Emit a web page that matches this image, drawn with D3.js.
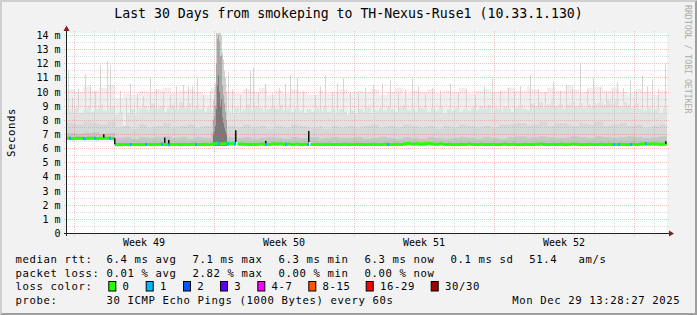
<!DOCTYPE html>
<html><head><meta charset="utf-8">
<script src="https://cdn.jsdelivr.net/npm/d3@7/dist/d3.min.js"></script>
<style>
html,body{margin:0;padding:0;background:#f2f2f2;overflow:hidden;}
svg{display:block;}
text{font-family:"DejaVu Sans Mono",monospace;}
</style></head><body>
<svg id="c" width="697" height="315"></svg>
<script>
// ---------------- DATA ----------------
const titleText = "Last 30 Days from smokeping to TH-Nexus-Ruse1 (10.33.1.130)";
const yTickValues = [0,1,2,3,4,5,6,7,8,9,10,11,12,13,14];
const yTickLabels = ["0","1 m","2 m","3 m","4 m","5 m","6 m","7 m","8 m","9 m","10 m","11 m","12 m","13 m","14 m"];
const weekStarts = ["2025-11-30","2025-12-07","2025-12-14","2025-12-21"];
const weekLabels = ["Week 49","Week 50","Week 51","Week 52"];
const startTime = Date.UTC(2025,10,29,15,36);
const endTime   = Date.UTC(2025,11,29,15,36);
const binHours = 4.8;            // median / body bins
const coarseBinHours = 9.6;      // coarse smoke layer bins

// median rtt (ms), one per 4.8 h
const median = [
 6.73,6.72,6.74,6.73,6.72,6.73,6.74,6.72,6.73,6.74,6.73,6.72,
 6.29,6.29,6.30,6.29,6.30,6.30,6.29,6.30,6.30,6.29,6.30,6.31,6.30,6.29,6.30,6.30,6.29,6.30,6.30,6.31,6.30,6.30,6.31,6.30,6.32,
 6.36,6.33,6.37,6.34,6.35,6.33,6.32,
 6.31,6.30,6.31,6.30,6.32,6.31,6.30,
 6.34,6.32,6.35,6.31,6.33,6.30,6.32,6.30,
 6.31,6.30,6.30,6.31,6.30,6.30,6.31,6.30,6.30,6.30,6.31,6.30,6.30,6.31,6.30,6.30,6.30,6.31,6.30,6.30,6.31,6.30,6.30,6.31,6.30,
 6.34,6.36,6.33,6.35,6.32,6.34,6.36,6.33,6.31,6.34,
 6.30,6.31,6.30,6.30,6.31,6.30,6.32,6.30,6.30,6.31,6.30,6.30,6.31,6.30,6.30,6.32,6.30,6.31,6.30,6.30,6.31,6.30,6.30,6.31,6.32,
 6.30,6.30,6.31,6.30,6.31,6.30,6.30,6.32,6.31,6.30,6.30,6.31,6.30,6.30,6.31,6.30,6.31,6.30,6.30,6.31,6.30,6.30,6.31,6.30,
 6.33,6.35,6.32,6.34,6.33,6.31,6.32
];
// top of the light smoke body (ms), one per 4.8 h
const smokeBody = [
 8.8,8.6,8.9,8.5,8.7,9.0,8.6,8.8,9.1,8.7,8.9,9.0,
 8.4,8.6,7.6,8.5,8.8,8.3,
 8.9,9.0,8.7,9.2,8.8,9.0,8.6,8.9,
 9.1,8.8,9.3,8.9,9.2,8.7,9.0,
 8.8,8.6,8.9,8.7,
 9.5,10.0,9.6,
 8.7,8.5,8.9,8.6,
 8.8,9.1,8.7,9.0,8.9,8.6,8.8,
 9.0,8.8,9.1,8.7,8.9,8.6,
 8.9,8.7,8.5,8.8,8.6,8.9,
 8.7,9.0,8.6,8.8,8.5,8.8,8.6,
 8.4,8.7,8.5,8.8,8.6,8.9,8.5,8.7,
 8.9,8.7,9.0,8.8,8.6,8.9,9.1,8.7,8.8,8.6,8.9,
 8.8,8.6,8.9,8.7,9.0,8.5,8.8,8.7,8.9,8.6,8.8,8.7,
 8.9,8.7,9.0,8.8,9.1,8.6,8.9,8.7,9.0,8.8,8.6,8.9,9.1,8.8,8.7,
 9.2,9.0,9.3,8.9,9.1,9.4,9.0,9.2,8.8,9.1,9.3,9.0,9.2,8.9,9.1,9.0,9.2,
 9.3,9.1,9.4,9.2,9.5,9.0,9.3,9.1,8.9,9.2,8.8,
 8.7,8.9,8.6,8.8,8.5,8.9
];
// top of the faint outer haze (ms), one per 9.6 h
const smokeHaze = [
 10.2,10.0,10.4,10.1,10.3,10.5,
 9.6,9.9,9.8,10.1,10.0,10.2,10.3,9.9,10.1,10.2,10.0,9.8,
 10.3,10.6,
 10.0,9.9,10.2,10.0,10.3,9.8,10.1,9.9,10.2,10.0,9.8,10.1,9.9,10.0,10.2,
 9.9,10.1,10.0,10.2,9.8,10.0,10.3,9.9,10.1,10.0,10.2,9.9,10.1,10.0,10.3,9.9,10.1,10.2,10.0,10.1,
 10.3,10.1,10.4,10.2,10.0,10.3,10.1,10.5,10.2,10.0,10.3,10.4,10.1,10.3,10.0,9.9,10.2,10.0,9.8,10.1
];
// top of the medium smoke layer (ms), one per 9.6 h
const smokeMid = [
 7.8,7.7,7.9,7.8,7.7,7.9,
 7.5,7.6,7.4,7.7,7.5,7.6,7.8,7.5,7.6,7.7,7.5,7.6,
 8.0,8.2,
 7.6,7.5,7.7,7.5,7.6,7.4,7.6,7.5,7.7,7.6,7.5,7.6,7.4,7.6,7.5,
 7.6,7.5,7.6,7.7,7.5,7.6,7.5,7.7,7.6,7.5,7.6,7.4,7.6,7.5,7.7,7.6,7.5,7.6,7.5,7.7,
 7.7,7.8,7.6,7.7,7.9,7.6,7.8,7.7,7.6,7.8,7.7,7.9,7.6,7.7,7.8,7.6,7.7,7.5,7.6,7.7
];
// top of the dark smoke layer near the median (ms), one per 9.6 h
const smokeInner = [
 7.1,7.05,7.1,7.15,7.05,7.1,
 6.75,6.8,6.7,6.8,6.75,6.8,6.85,6.75,6.8,6.7,6.8,6.75,
 7.2,7.4,
 6.8,6.75,6.8,6.7,6.75,6.8,6.75,6.7,6.8,6.75,6.8,6.7,6.75,6.8,6.75,
 6.75,6.8,6.7,6.75,6.8,6.75,6.7,6.8,6.75,6.7,6.8,6.75,6.7,6.75,6.8,6.75,6.7,6.8,6.75,6.7,
 6.8,6.85,6.75,6.8,6.85,6.8,6.75,6.8,6.85,6.8,6.75,6.85,6.8,6.75,6.8,6.85,6.8,6.75,6.8,6.85
];
// isolated smoke spikes (day offset from start, top in ms)
const spikeDay = [0.05,0.25,0.55,0.9,1.15,1.4,1.65,2.0,2.15,2.65,2.95,3.15,3.5,3.8,4.15,4.45,4.8,5.15,5.45,5.8,6.05,6.25,6.5,6.8,7.15,8.05,8.25,8.65,8.95,9.15,9.3,9.55,9.9,10.25,10.6,10.9,11.15,11.5,11.8,12.4,12.65,12.9,13.25,13.5,13.8,14.15,14.55,14.9,15.3,15.75,16.15,16.55,16.9,17.25,17.55,17.9,18.25,18.65,19.15,19.55,19.95,20.4,20.85,21.25,21.65,22.05,22.35,22.65,23.15,23.55,23.9,24.3,24.65,24.95,25.25,25.65,26.0,26.3,26.65,26.95,27.25,27.5,27.8,28.15,28.45,28.75,29.0,29.25,29.55,29.9];
const spikeTop = [11.5,9.6,10.2,11.3,10.5,10.0,11.9,12.2,11.9,10.1,9.6,10.6,9.9,9.7,11.0,10.2,10.0,9.8,10.4,10.5,10.4,10.4,11.0,9.8,10.1,11.4,10.2,9.8,10.3,11.5,11.7,10.0,10.6,9.9,10.3,10.6,11.2,11.0,10.1,9.8,10.4,11.2,10.0,10.6,11.0,10.0,9.9,10.3,10.5,10.6,10.8,10.0,10.2,11.0,10.4,9.9,10.3,10.1,10.6,10.0,10.2,9.8,10.4,11.0,10.1,10.3,10.0,10.4,11.2,10.2,10.0,10.7,10.1,10.5,10.4,12.0,10.2,11.0,10.3,10.0,10.1,10.7,10.3,10.8,10.0,11.2,10.4,10.9,10.2,12.0];
// latency burst around day 7.5
const burstDay  = [7.30,7.35,7.40,7.45,7.50,7.55,7.60,7.65,7.70,7.75,7.80,7.85,7.90,7.95];
const burstMax  = [9.4,9.8,10.6,14.2,14.2,14.2,14.2,14.2,14.0,12.8,12.3,11.5,11.0,10.0];
const burstMid  = [8.0,8.3,9.0,12.0,13.8,14.0,13.6,12.5,12.6,10.5,9.8,9.2,8.6,8.0];
const burstDark = [7.0,7.2,7.6,8.8,10.5,11.2,10.0,9.0,9.5,8.2,7.8,7.5,7.2,7.0];
// dense dark smoke marks near the median
const darkDay = [1.82,2.35,4.87,5.03,8.40,9.90,12.05,29.92];
const darkLo  = [6.78,6.30,6.40,6.36,6.45,6.38,6.45,6.33];
const darkHi  = [7.02,6.74,6.78,6.62,7.30,6.55,7.25,6.52];
// single lost packet (1/30) events
const lossDay = [0.1,0.8,1.35,2.1,3.15,3.9,4.7,5.05,6.4,7.55,8.0,8.35,9.9,10.9,12.0,16.0,27.3,27.55,28.15,28.9];
// median gaps
const gapDay = [8.45,12.1];

// legend
const rttStats = ["6.4","7.1","6.3","6.3"];
const statNames = ["avg","max","min","now"];
const rttSd = "0.1";
const amps = "51.4";
const lossStats = ["0.01","2.82","0.00","0.00"];
const lossColorLabels = ["0","1","2","3","4-7","8-15","16-29","30/30"];
const lossColors = ["#26ff00","#00b8ff","#0059ff","#5e00ff","#ff00ff","#ff5500","#ff0000","#a10000"];
const probeText = "30 ICMP Echo Pings (1000 Bytes) every 60s";
const dateText = "Mon Dec 29 13:28:27 2025";

// ---------------- DRAW ----------------
const W = 697, H = 315;
const svg = d3.select("#c");
const DAY = 864e5, HOUR = 36e5;
const tDay = d => new Date(startTime + d*DAY);

const x = d3.scaleUtc().domain([startTime, endTime]).range([67, 667]);
const y = d3.scaleLinear().domain([0, 14]).range([233.5, 35.5]);

// background + 3D border
svg.append("rect").attr("width", W).attr("height", H).attr("fill", "#f2f2f2");
svg.append("path").attr("d", `M0,0H${W}L${W-2},2H2V${H-2}L0,${H}Z`).attr("fill", "#cfcfcf");
svg.append("path").attr("d", `M${W},0V${H}H0L2,${H-2}H${W-2}V2Z`).attr("fill", "#9e9e9e");

// title
svg.append("text").attr("x", 348.5).attr("y", 18.3).attr("text-anchor", "middle")
  .style("font-size", "13.2px").attr("fill", "#000").text(titleText);

// canvas
svg.append("rect").attr("x", 67).attr("y", 33).attr("width", 600).attr("height", 200.5).attr("fill", "#fff");
svg.append("clipPath").attr("id", "plotclip").append("rect")
  .attr("x", 67).attr("y", 33).attr("width", 600).attr("height", 200.5);
const plot = svg.append("g").attr("clip-path", "url(#plotclip)");

// fine bins
const coarse = i => Math.floor(i*binHours/coarseBinHours);
const fine = median.map((m, i) => ({
  t: startTime + i*binHours*HOUR, m,
  body: smokeBody[i],
  haze: smokeHaze[coarse(i)],
  mid: smokeMid[coarse(i)],
  inner: smokeInner[coarse(i)]
}));
const finePts = fine.concat([Object.assign({}, fine[fine.length-1], {t: startTime + fine.length*binHours*HOUR})]);
const stepArea = (lo, hi) => d3.area().curve(d3.curveStepAfter)
  .x(d => x(new Date(d.t))).y0(d => y(lo(d))).y1(d => y(hi(d)))(finePts);

plot.append("path").attr("d", stepArea(d => d.m, d => d.haze)).attr("fill", "#efefef");
// spikes (under body)
plot.append("g").selectAll("rect").data(spikeDay).join("rect")
  .attr("x", d => Math.round(x(tDay(d)))).attr("width", 1)
  .attr("y", (d, i) => y(spikeTop[i])).attr("height", (d, i) => y(7.5) - y(spikeTop[i]))
  .attr("fill", "#d6d6d6");

plot.append("path").attr("d", stepArea(d => d.m - 0.12, d => d.body)).attr("fill", "#e2e2e2");
plot.append("path").attr("d", stepArea(d => d.m - 0.12, d => d.mid)).attr("fill", "#d7d7d7");
plot.append("path").attr("d", stepArea(d => d.m - 0.12, d => d.inner)).attr("fill", "#c6c6c6");

// burst
const burst = plot.append("g");
[[burstMax, "#d0d0d0"], [burstMid, "#a8a8a8"], [burstDark, "#7a7a7a"]].forEach(([arr, col]) => {
  burst.append("g").selectAll("rect").data(burstDay).join("rect")
    .attr("x", d => Math.round(x(tDay(d)))).attr("width", 1)
    .attr("y", (d, i) => y(arr[i])).attr("height", (d, i) => y(6.2) - y(arr[i]))
    .attr("fill", col);
});

// grid
const grid = svg.append("g");
const hvals = d3.range(1, 29).map(k => k/2);
hvals.forEach(v => {
  const yy = Math.round(y(v) - 0.5) + 0.5;
  const major = Number.isInteger(v);
  grid.append("line").attr("x1", 64).attr("x2", 669).attr("y1", yy).attr("y2", yy)
    .attr("stroke", major ? "#de4f4f" : "#8f8f8f").attr("stroke-opacity", major ? 0.35 : 0.3)
    .attr("stroke-dasharray", "1,1");
});
const days = d3.utcDay.range(new Date(startTime), new Date(endTime));
const sundays = d3.utcSunday.range(new Date(startTime), new Date(endTime)).map(d => +d);
days.forEach(d => {
  const xx = Math.round(x(d)) + 0.5;
  const major = sundays.includes(+d);
  grid.append("line").attr("x1", xx).attr("x2", xx).attr("y1", 31).attr("y2", 236)
    .attr("stroke", major ? "#de4f4f" : "#8f8f8f").attr("stroke-opacity", major ? 0.35 : 0.3)
    .attr("stroke-dasharray", "1,1");
});

// median line
const med = svg.append("g").attr("clip-path", "url(#plotclip)");
med.append("path").attr("d", d3.area().curve(d3.curveStepAfter)
  .x(d => x(new Date(d.t))).y0(d => y(d.m) + 1.5).y1(d => y(d.m) - 1.5)(finePts))
  .attr("fill", lossColors[0]);
// loss events
med.selectAll("rect.loss").data(lossDay).join("rect").attr("class", "loss")
  .attr("x", d => Math.round(x(tDay(d)))).attr("width", 2)
  .attr("y", d => y(median[Math.floor(d*24/binHours)]) - 1.5).attr("height", 3)
  .attr("fill", lossColors[1]);
// dark marks
med.selectAll("rect.dark").data(darkDay).join("rect").attr("class", "dark")
  .attr("x", d => Math.round(x(tDay(d)))).attr("width", 1.5)
  .attr("y", (d, i) => y(darkHi[i])).attr("height", (d, i) => y(darkLo[i]) - y(darkHi[i]))
  .attr("fill", "#111");
// gaps
med.selectAll("rect.gap").data(gapDay).join("rect").attr("class", "gap")
  .attr("x", d => Math.round(x(tDay(d)))).attr("width", 1.5)
  .attr("y", d => y(median[Math.floor(d*24/binHours)] + 0.15)).attr("height", 5)
  .attr("fill", "#fff");

// axes
svg.append("line").attr("x1", 64).attr("x2", 669).attr("y1", 233.5).attr("y2", 233.5).attr("stroke", "#1f1f1f");
svg.append("line").attr("x1", 66.5).attr("x2", 66.5).attr("y1", 236).attr("y2", 31).attr("stroke", "#1f1f1f");
svg.append("path").attr("d", "M669,230.5L674,233.5L669,236.5Z").attr("fill", "#801f1f");
svg.append("path").attr("d", "M63.5,31L66.5,25.5L69.5,31Z").attr("fill", "#801f1f");

// y labels
svg.append("g").selectAll("text").data(yTickValues).join("text")
  .attr("x", 60.6).attr("y", d => Math.round(y(d) - 0.5) + 4)
  .attr("text-anchor", "end").style("font-size", "10px").attr("fill", "#000")
  .text((d, i) => yTickLabels[i]);

// week labels
svg.append("g").selectAll("text").data(weekStarts).join("text")
  .attr("x", d => x(new Date(Date.parse(d + "T00:00:00Z") + 3.5*DAY)))
  .attr("y", 245.5).attr("text-anchor", "middle").style("font-size", "10px").attr("fill", "#000")
  .text((d, i) => weekLabels[i]);

// axis title
svg.append("text").attr("transform", "translate(15,132.5) rotate(-90)").attr("text-anchor", "middle")
  .style("font-size", "10.6px").style("letter-spacing", "0.62px").attr("fill", "#000").text("Seconds");
// watermark
svg.append("text").attr("transform", "translate(684.5,5) rotate(90)")
  .style("font-size", "8.2px").attr("fill", "#ababab").text("RRDTOOL / TOBI OETIKER");

// legend
const leg = svg.append("g").style("font-size", "10.6px").style("letter-spacing", "0.62px").attr("fill", "#000");
const rowY = [262.6, 276.6, 290.4, 304.4];
const colX = [106.6, 192.6, 278.6, 364.6];
const put = (t, xx, yy) => leg.append("text").attr("x", xx).attr("y", yy).text(t);
put("median rtt:", 15.5, rowY[0]);
rttStats.forEach((v, i) => put(`${v} ms ${statNames[i]}`, colX[i], rowY[0]));
put(`${rttSd} ms sd`, 450.6, rowY[0]);
put(amps, 529.3, rowY[0]);
put("am/s", 578.6, rowY[0]);
put("packet loss:", 15.5, rowY[1]);
lossStats.forEach((v, i) => put(`${v} % ${statNames[i]}`, colX[i], rowY[1]));
put("loss color:", 15.5, rowY[2]);
const boxX = [108.3, 145.7, 183, 220, 257.3, 308.3, 365.7, 430.7];
lossColorLabels.forEach((lab, i) => {
  leg.append("rect").attr("x", boxX[i] + 0.5).attr("y", 281.5).attr("width", 7).attr("height", 9.5)
    .attr("fill", lossColors[i]).attr("stroke", "#000").attr("stroke-width", 1);
  put(lab, boxX[i] + 14.3, rowY[2]);
});
put("probe:", 15.5, rowY[3]);
put(probeText, 106.6, rowY[3]);
put(dateText, 512.2, rowY[3]);
</script>
</body></html>
